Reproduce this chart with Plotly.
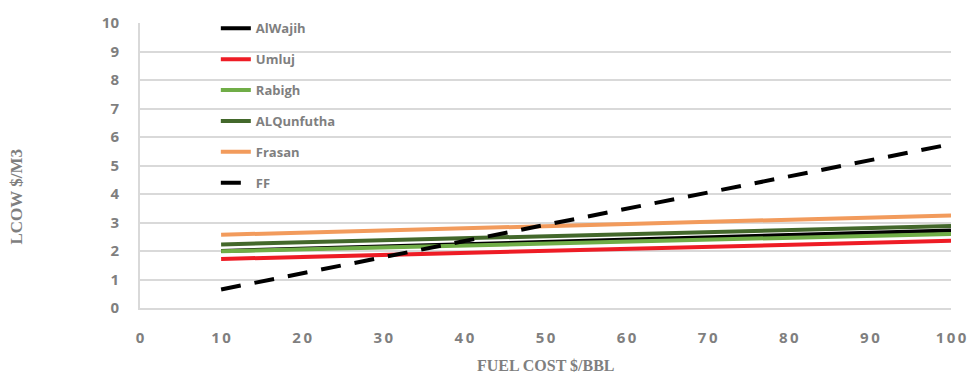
import plotly.graph_objects as go

fuel_cost = [10, 100]
names = ["AlWajih", "Umluj", "Rabigh", "ALQunfutha", "Frasan", "FF"]
alwajih = [2.0, 2.72]
umluj = [1.72, 2.36]
rabigh = [1.99, 2.60]
alqunfutha = [2.23, 2.88]
frasan = [2.57, 3.25]
ff = [0.65, 5.75]
series = [alwajih, umluj, rabigh, alqunfutha, frasan, ff]
colors = ["#000000", "#ee1c25", "#70ad47", "#43682b", "#f29b5c", "#000000"]
x_ticks = list(range(0, 101, 10))
y_ticks = list(range(0, 11))

fig = go.Figure()
for i in range(6):
    dash = "20px,14px" if names[i] == "FF" else "solid"
    fig.add_trace(go.Scatter(
        x=fuel_cost, y=series[i], name=names[i], mode="lines",
        line=dict(color=colors[i], width=4, dash=dash),
        legendgroup=names[i], legendrank=i + 1,
    ))

tick_font = dict(family="Open Sans, DejaVu Sans", size=15, color="#7f7f7f", weight="bold")
fig.update_layout(
    width=979, height=376,
    margin=dict(l=140, r=19, t=16, b=68),
    paper_bgcolor="white", plot_bgcolor="white",
    showlegend=True,
    legend=dict(x=0.0935, y=1.034, xanchor="left", yanchor="top",
                bgcolor="rgba(0,0,0,0)", tracegroupgap=11,
                font=dict(family="Open Sans, DejaVu Sans", size=13, color="#7f7f7f", weight="bold")),
    xaxis=dict(range=[0, 100], tickvals=x_ticks,
               ticktext=["\u2009".join(str(v)) for v in x_ticks],
               showgrid=False, showline=True, linecolor="#d9d9d9", linewidth=2,
               ticks="outside", ticklen=15, tickcolor="rgba(0,0,0,0)",
               tickfont=tick_font, zeroline=False),
    yaxis=dict(range=[0, 10], tickvals=y_ticks, showgrid=True, gridcolor="#d9d9d9", gridwidth=1.5,
               showline=True, linecolor="#d9d9d9", linewidth=2,
               ticks="outside", ticklen=16, tickcolor="rgba(0,0,0,0)",
               tickfont=tick_font, zeroline=False),
)
fig.add_annotation(text="LCOW $/M3", xref="paper", yref="paper", x=-0.152, y=0.39,
                   showarrow=False, textangle=-90, xanchor="center", yanchor="middle",
                   font=dict(family="Liberation Serif", size=17, color="#7f7f7f", weight="bold"))
fig.add_annotation(text="FUEL COST $/BBL", xref="paper", yref="paper", x=0.5, y=-0.2,
                   showarrow=False, xanchor="center", yanchor="middle",
                   font=dict(family="Liberation Serif", size=16, color="#7f7f7f", weight="bold"))
fig.write_html("out.html", config={"displayModeBar": False},
               post_script="document.body.style.margin='0';document.body.style.overflow='hidden';")
